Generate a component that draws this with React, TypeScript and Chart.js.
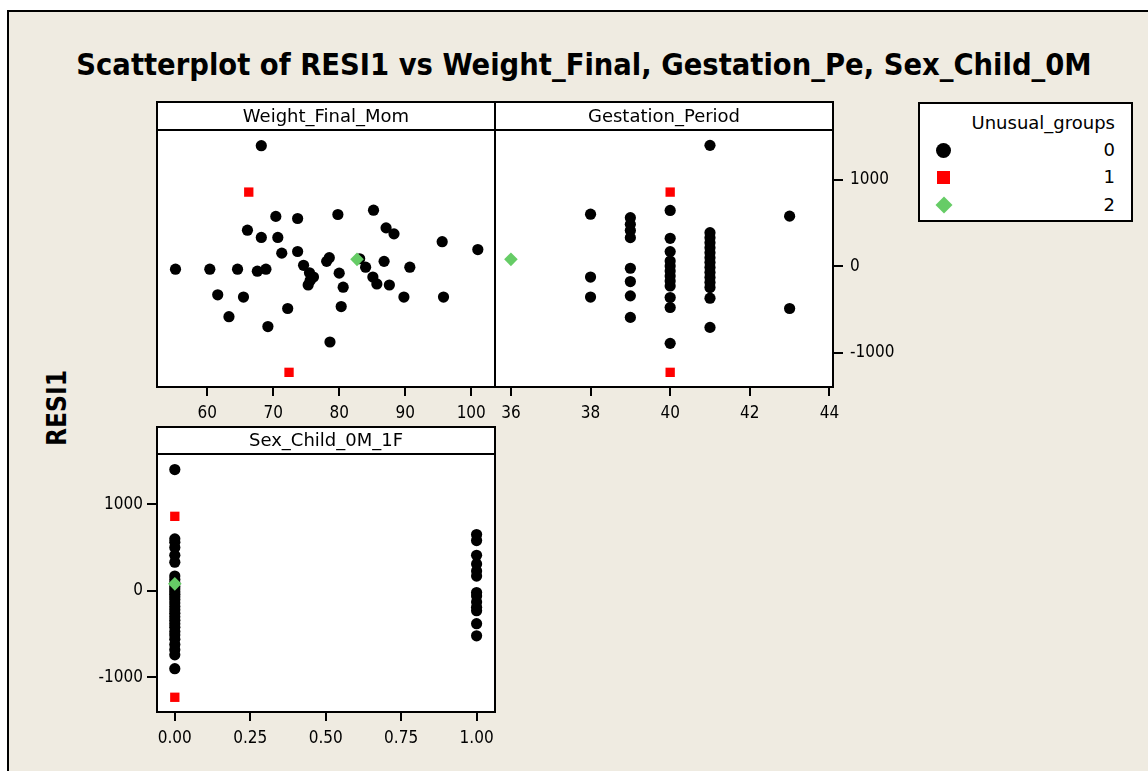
import React, { useEffect, useRef } from "react";
import { Chart, registerables } from "chart.js";
Chart.register(...registerables);

// ---------- DATA ----------
// Panel 1: RESI1 vs Weight_Final_Mom
const weightX0 = [68.2, 70.4, 73.7, 79.8, 85.2, 66.1, 68.2, 70.7, 87.1, 88.3, 95.6, 101.0, 71.3, 73.7, 78.5, 78.1, 83.1, 84.0, 86.8, 90.7, 55.2, 60.4, 64.6, 67.6, 68.9, 74.6, 75.5, 76.1, 75.6, 75.3, 80.0, 80.6, 85.1, 85.7, 87.6, 61.6, 65.5, 89.8, 95.8, 72.2, 80.3, 63.3, 69.2, 78.6];
const weightY0 = [1398, 578, 554, 600, 650, 418, 334, 334, 445, 376, 285, 194, 152, 171, 99, 57, 87, -11, 57, -11, -34, -34, -34, -57, -34, 11, -76, -125, -165, -217, -80, -243, -125, -205, -217, -331, -357, -357, -357, -490, -467, -585, -699, -878];
const weightX1 = [66.3, 72.4];
const weightY1 = [860, -1230];
const weightX2 = [82.7];
const weightY2 = [80];

// Panel 2: RESI1 vs Gestation_Period
const gestX0 = [38, 38, 38, 39, 39, 39, 39, 39, 39, 39, 39, 40, 40, 40, 40, 40, 40, 40, 40, 40, 40, 40, 40, 41, 41, 41, 41, 41, 41, 41, 41, 41, 41, 41, 41, 41, 41, 41, 43, 43];
const gestY0 = [604, -125, -357, 563, 486, 416, 332, -23, -177, -343, -593, 647, 324, 170, 61, 4, -54, -112, -170, -228, -362, -478, -894, 1402, 389, 332, 274, 216, 158, 100, 43, -15, -73, -131, -189, -247, -370, -709, 581, -490];
const gestX1 = [40, 40];
const gestY1 = [860, -1230];
const gestX2 = [36];
const gestY2 = [80];

// Panel 3: RESI1 vs Sex_Child_0M_1F
const sexX0 = [0, 0, 0, 0, 0, 0, 0, 0, 0, 0, 0, 0, 0, 0, 0, 0, 0, 0, 0, 0, 0, 0, 0, 0, 0, 0, 0, 0, 0, 0, 1, 1, 1, 1, 1, 1, 1, 1, 1, 1, 1, 1, 1];
const sexY0 = [1400, 600, 560, 500, 410, 330, 170, 130, 90, 50, 20, -10, -40, -70, -100, -140, -180, -220, -260, -300, -340, -380, -420, -470, -510, -560, -620, -680, -740, -900, 650, 580, 410, 310, 230, 170, -20, -60, -130, -190, -230, -380, -520];
const sexX1 = [0, 0];
const sexY1 = [860, -1230];
const sexX2 = [0];
const sexY2 = [80];

// Axis ticks
const weightTicks = [60, 70, 80, 90, 100];
const weightTickLabels = ["60", "70", "80", "90", "100"];
const gestTicks = [36, 38, 40, 42, 44];
const gestTickLabels = ["36", "38", "40", "42", "44"];
const sexTicks = [0, 0.25, 0.5, 0.75, 1];
const sexTickLabels = ["0.00", "0.25", "0.50", "0.75", "1.00"];
const residTicks = [-1000, 0, 1000];
const residTickLabels = ["-1000", "0", "1000"];

const legendTitle = "Unusual_groups";
const groupLabels = ["0", "1", "2"];

// ---------- STYLE ----------
const BG = "#EFEBE1";
const TICK_FAMILY = '"DejaVu Sans Condensed", "DejaVu Sans", sans-serif';
const TEXT_FAMILY = '"DejaVu Sans", sans-serif';
const RED = "#FF0000";
const GREEN = "#66CC66";

type PanelProps = {
  title: string;
  xs: number[][];
  ys: number[][];
  xMin: number;
  xMax: number;
  xTicks: number[];
  xLabels: string[];
  yAxis: "none" | "left" | "right";
  left: number;
  top: number;
  width: number;
  height: number;
  padding: { left: number; right: number; top: number; bottom: number };
  stripH: number;
};

const Y_MIN = -1400;
const Y_MAX = 1580;

function Panel(p: PanelProps) {
  const ref = useRef<HTMLCanvasElement | null>(null);
  useEffect(() => {
    if (!ref.current) return;
    const framePlugin = {
      id: "frameStrip",
      beforeDraw(chart: any) {
        const { ctx, chartArea: a } = chart;
        ctx.save();
        ctx.fillStyle = "#FFFFFF";
        ctx.fillRect(a.left, a.top, a.right - a.left, a.bottom - a.top);
        ctx.restore();
      },
      afterDatasetsDraw(chart: any) {
        const { ctx, chartArea: a } = chart;
        ctx.save();
        ctx.lineWidth = 2;
        ctx.strokeStyle = "#000";
        ctx.strokeRect(a.left, a.top, a.right - a.left, a.bottom - a.top);
        // strip
        const sTop = a.top - p.stripH;
        ctx.fillStyle = "#FFFFFF";
        ctx.fillRect(a.left, sTop, a.right - a.left, p.stripH);
        ctx.strokeRect(a.left, sTop, a.right - a.left, p.stripH);
        ctx.fillStyle = "#000";
        ctx.font = `18px ${TEXT_FAMILY}`;
        ctx.textAlign = "center";
        ctx.textBaseline = "middle";
        ctx.fillText(p.title, (a.left + a.right) / 2, sTop + p.stripH / 2 + 1);
        ctx.restore();
      },
    };

    const mk = (xs: number[], ys: number[]) => xs.map((x, i) => ({ x, y: ys[i] }));
    const chart = new Chart(ref.current, {
      type: "scatter",
      data: {
        datasets: [
          {
            label: "2",
            data: mk(p.xs[2], p.ys[2]),
            pointStyle: "rectRot",
            pointRadius: 6.8,
            backgroundColor: GREEN,
            borderColor: GREEN,
            borderWidth: 0,
          },
          {
            label: "1",
            data: mk(p.xs[1], p.ys[1]),
            pointStyle: "rect",
            pointRadius: 6.6,
            backgroundColor: RED,
            borderColor: RED,
            borderWidth: 0,
          },
          {
            label: "0",
            data: mk(p.xs[0], p.ys[0]),
            pointStyle: "circle",
            pointRadius: 5.6,
            backgroundColor: "#000",
            borderColor: "#000",
            borderWidth: 0,
          },
        ],
      },
      options: {
        responsive: false,
        animation: false,
        devicePixelRatio: 1,
        layout: { padding: p.padding },
        plugins: { legend: { display: false }, tooltip: { enabled: false }, title: { display: false } },
        scales: {
          x: {
            type: "linear",
            min: p.xMin,
            max: p.xMax,
            afterBuildTicks: (s: any) => {
              s.ticks = p.xTicks.map((v) => ({ value: v }));
            },
            afterFit: (s: any) => {
              s.height = 40;
            },
            grid: {
              display: true,
              drawOnChartArea: false,
              drawTicks: true,
              tickLength: 9,
              color: "#000",
              lineWidth: 2,
            },
            border: { display: false },
            ticks: {
              color: "#000",
              font: { family: TICK_FAMILY, size: 17 },
              padding: 7,
              maxRotation: 0,
              autoSkip: false,
              callback: (_v: any, i: number) => p.xLabels[i],
            },
          },
          y: {
            type: "linear",
            display: p.yAxis !== "none",
            position: p.yAxis === "right" ? "right" : "left",
            min: Y_MIN,
            max: Y_MAX,
            afterBuildTicks: (s: any) => {
              s.ticks = residTicks.map((v) => ({ value: v }));
            },
            afterFit: (s: any) => {
              s.width = p.yAxis === "none" ? 0 : p.yAxis === "right" ? 70 : 60;
            },
            grid: {
              display: true,
              drawOnChartArea: false,
              drawTicks: true,
              tickLength: 10,
              color: "#000",
              lineWidth: 2,
            },
            border: { display: false },
            ticks: {
              color: "#000",
              font: { family: TICK_FAMILY, size: 17 },
              padding: p.yAxis === "right" ? 7 : 4,
              autoSkip: false,
              callback: (_v: any, i: number) => residTickLabels[i],
            },
          },
        },
      } as any,
      plugins: [framePlugin],
    });
    return () => chart.destroy();
  }, []);
  return (
    <canvas
      ref={ref}
      width={p.width}
      height={p.height}
      style={{ position: "absolute", left: p.left, top: p.top, width: p.width, height: p.height }}
    />
  );
}

export default function App() {
  return (
    <div
      style={{
        position: "absolute",
        left: 0,
        top: 0,
        width: 1148,
        height: 771,
        background: "#FFFFFF",
        overflow: "hidden",
      }}
    >
      <div
        style={{
          position: "absolute",
          left: 7,
          top: 10,
          width: 1160,
          height: 780,
          background: BG,
          borderLeft: "2px solid #000",
          borderTop: "2px solid #000",
        }}
      />
      <div
        style={{
          position: "absolute",
          left: 0,
          top: 47,
          width: 1168,
          textAlign: "center",
          fontFamily: TICK_FAMILY,
          fontWeight: "bold",
          fontSize: 30.5,
          lineHeight: "36px",
          color: "#000",
          whiteSpace: "nowrap",
        }}
      >
        Scatterplot of RESI1 vs Weight_Final, Gestation_Pe, Sex_Child_0M
      </div>
      <div
        style={{
          position: "absolute",
          left: 57,
          top: 408,
          transform: "translate(-50%, -50%) rotate(-90deg)",
          fontFamily: TICK_FAMILY,
          fontWeight: "bold",
          fontSize: 26,
          lineHeight: "30px",
          color: "#000",
          whiteSpace: "nowrap",
        }}
      >
        RESI1
      </div>

      <Panel
        title="Weight_Final_Mom"
        xs={[weightX0, weightX1, weightX2]}
        ys={[weightY0, weightY1, weightY2]}
        xMin={52.4}
        xMax={103.6}
        xTicks={weightTicks}
        xLabels={weightTickLabels}
        yAxis="none"
        left={127}
        top={101}
        width={398}
        height={326}
        padding={{ left: 30, right: 30, top: 29, bottom: 0 }}
        stripH={28}
      />
      <Panel
        title="Gestation_Period"
        xs={[gestX0, gestX1, gestX2]}
        ys={[gestY0, gestY1, gestY2]}
        xMin={35.6}
        xMax={44.09}
        xTicks={gestTicks}
        xLabels={gestTickLabels}
        yAxis="right"
        left={465}
        top={101}
        width={438}
        height={326}
        padding={{ left: 30, right: 0, top: 29, bottom: 0 }}
        stripH={28}
      />
      <Panel
        title="Sex_Child_0M_1F"
        xs={[sexX0, sexX1, sexX2]}
        ys={[sexY0, sexY1, sexY2]}
        xMin={-0.059}
        xMax={1.061}
        xTicks={sexTicks}
        xLabels={sexTickLabels}
        yAxis="left"
        left={97}
        top={426}
        width={418}
        height={326}
        padding={{ left: 0, right: 20, top: 28, bottom: 0 }}
        stripH={27}
      />

      <div
        style={{
          position: "absolute",
          left: 918,
          top: 102,
          width: 215,
          height: 120,
          boxSizing: "border-box",
          border: "2px solid #000",
          background: "#FFFFFF",
          fontFamily: TEXT_FAMILY,
          fontSize: 18,
          color: "#000",
        }}
      >
        <div style={{ position: "absolute", right: 16, top: 8, lineHeight: "22px" }}>{legendTitle}</div>
        {groupLabels.map((g, i) => {
          const cy = [46, 73, 101][i];
          return (
            <div key={g}>
              <div style={{ position: "absolute", right: 16, top: cy - 11, lineHeight: "22px" }}>{g}</div>
              {i === 0 && (
                <div style={{ position: "absolute", left: 16, top: cy - 7.5, width: 15, height: 15, borderRadius: "50%", background: "#000" }} />
              )}
              {i === 1 && (
                <div style={{ position: "absolute", left: 17, top: cy - 6.5, width: 13, height: 13, background: RED }} />
              )}
              {i === 2 && (
                <div style={{ position: "absolute", left: 17.5, top: cy - 6, width: 12, height: 12, background: GREEN, transform: "rotate(45deg)" }} />
              )}
            </div>
          );
        })}
      </div>
    </div>
  );
}
